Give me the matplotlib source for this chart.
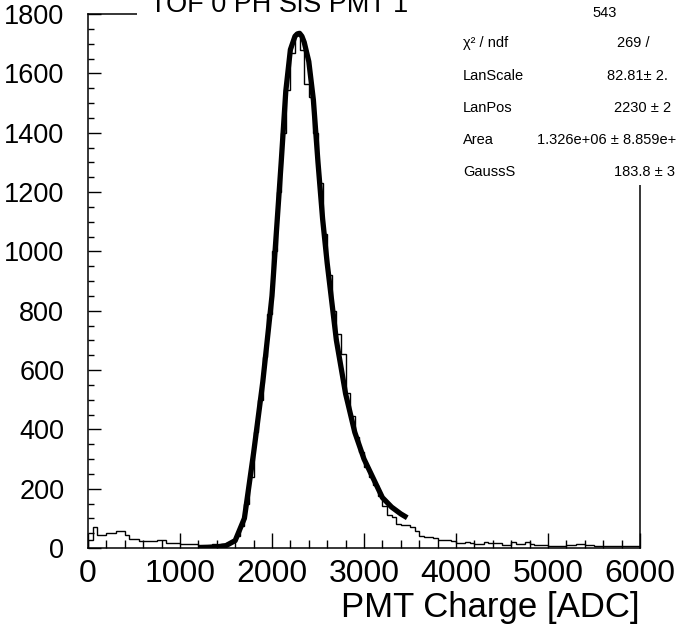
import numpy as np
import matplotlib
matplotlib.use("Agg")
import matplotlib.pyplot as plt
from matplotlib.patches import Rectangle
from matplotlib.ticker import MultipleLocator

plt.rcParams['font.family'] = ['Liberation Sans', 'DejaVu Sans']

# histogram: 120 bins of 50 ADC from 0 to 6000
bin_lo = 0
bin_width = 50
counts = [27, 70, 44, 45, 50, 50, 57, 57, 44, 30, 30, 25, 23, 23, 23, 27, 27, 17, 17, 17, 13, 13, 12, 13,
          10, 11, 10, 12, 10, 14, 18, 22, 40, 75, 150, 240, 390, 500, 645, 790,
          1000, 1200, 1400, 1545, 1670, 1735, 1680, 1565, 1520, 1400, 1230, 1060, 920, 800, 720, 654,
          522, 445, 374, 324, 273, 239, 212, 175, 140, 112, 105, 80, 78, 76, 72, 58,
          40, 38, 37, 35, 28, 27, 27, 25, 18, 18, 20, 17, 15, 15, 19, 16,
          16, 16, 10, 10, 19, 13, 13, 19, 14, 10, 10, 10, 6, 6, 6, 6,
          10, 10, 13, 13, 10, 10, 6, 6, 6, 6, 6, 6, 8, 8, 8, 6]

# fitted Landau x Gauss curve
fit_x = [1200, 1300, 1400, 1500, 1600, 1700, 1800, 1900, 2000, 2100, 2150, 2200, 2250, 2275, 2300,
         2325, 2350, 2400, 2450, 2500, 2550, 2600, 2700, 2800, 2900, 3000, 3100, 3200, 3300, 3400, 3470]
fit_y = [1, 2, 4, 8, 25, 100, 320, 560, 850, 1300, 1540, 1680, 1725, 1733, 1735,
         1725, 1705, 1640, 1510, 1300, 1110, 960, 700, 520, 390, 300, 235, 170, 138, 115, 102]

title = "TOF 0 PH SiS PMT 1"
xlabel = "PMT Charge [ADC]"
stat_labels = ["", "\u03c7\u00b2 / ndf", "LanScale", "LanPos", "Area", "GaussS"]
stat_values = ["543", "269 /", "82.81\u00b1 2.", "2230 \u00b1 2", "1.326e+06 \u00b1 8.859e+", "183.8 \u00b1 3"]

fig = plt.figure(figsize=(6.81, 6.26), dpi=100)
ax = fig.add_axes([0.1292, 0.1246, 0.8106, 0.853])

edges = bin_lo + bin_width * np.arange(len(counts) + 1)
ax.stairs(counts, edges, color='black', linewidth=1.0)
ax.plot(fit_x, fit_y, color='black', linewidth=3.8, solid_capstyle='butt', solid_joinstyle='round')

ax.set_xlim(0, 6000)
ax.set_ylim(0, 1800)
ax.xaxis.set_major_locator(MultipleLocator(1000))
ax.xaxis.set_minor_locator(MultipleLocator(200))
ax.yaxis.set_major_locator(MultipleLocator(200))
ax.yaxis.set_minor_locator(MultipleLocator(50))
ax.tick_params(axis='x', which='major', direction='in', length=11, width=1.0, labelsize=23, pad=8)
ax.tick_params(axis='x', which='minor', direction='in', length=5.5, width=1.0)
ax.tick_params(axis='y', which='major', direction='in', length=9, width=1.0, labelsize=19.5, pad=17)
ax.tick_params(axis='y', which='minor', direction='in', length=4.5, width=1.0)
for sp in ax.spines.values():
    sp.set_linewidth(1.1)

ax.set_xlabel(xlabel, fontsize=25, loc='right', labelpad=1)

# title box and stats box cover the top of the frame
fig.patches.append(Rectangle((137 / 681, 1 - 25 / 626), (430 - 137) / 681, 25 / 626,
                             transform=fig.transFigure, facecolor='white', edgecolor='none', zorder=5))
fig.patches.append(Rectangle((430 / 681, 1 - 185 / 626), 251 / 681, 185 / 626,
                             transform=fig.transFigure, facecolor='white', edgecolor='none', zorder=5))

fig.text(279 / 681, 1 - 12 / 626, title, ha='center', va='baseline', fontsize=19.5, zorder=6)

row_y = [13, 43, 76, 108, 140, 172]
val_x = [592, 617, 607, 614, 537, 614]
for lab, val, ry, vx in zip(stat_labels, stat_values, row_y, val_x):
    fig.text(463 / 681, 1 - ry / 626, lab, ha='left', va='center', fontsize=10.5, zorder=6)
    fig.text(vx / 681, 1 - ry / 626, val, ha='left', va='center', fontsize=10.5, zorder=6)

fig.savefig('out.png', dpi=100)
